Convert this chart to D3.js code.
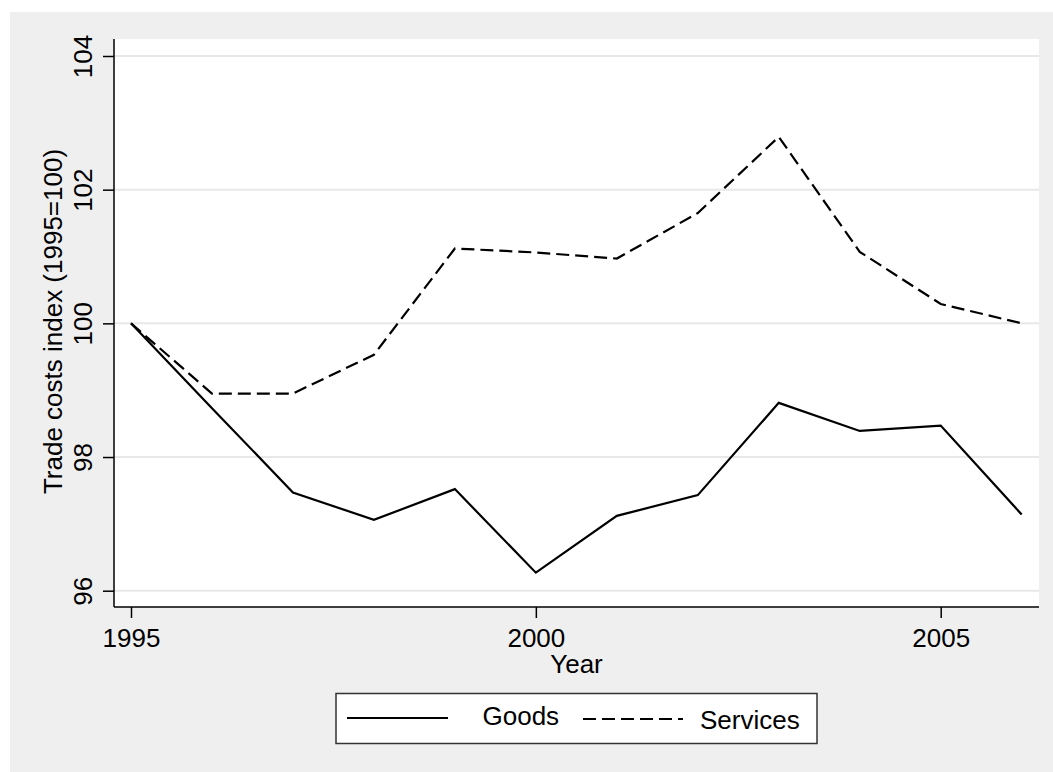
<!DOCTYPE html>
<html>
<head>
<meta charset="utf-8">
<script src="https://cdn.jsdelivr.net/npm/d3@7"></script>
<style>
  body { margin: 0; background: #fff; }
  text { font-family: "Liberation Sans", Arial, sans-serif; fill: #000; }
</style>
</head>
<body>
<div id="chart"></div>
<script>
var years = [1995, 1996, 1997, 1998, 1999, 2000, 2001, 2002, 2003, 2004, 2005, 2006];
var goods = [100, 98.73, 97.47, 97.06, 97.52, 96.27, 97.12, 97.43, 98.81, 98.39, 98.47, 97.14];
var services = [100, 98.95, 98.95, 99.53, 101.12, 101.06, 100.97, 101.65, 102.79, 101.07, 100.29, 100.0];
var yTicks = [96, 98, 100, 102, 104];
var xTicks = [1995, 2000, 2005];

const W = 1053, H = 772;
const plot = { left: 114, right: 1039, top: 39, bottom: 607 };

const svg = d3.select("#chart")
  .append("svg")
  .attr("width", W)
  .attr("height", H);

// outer background
svg.append("rect")
  .attr("x", 10).attr("y", 12)
  .attr("width", W - 10).attr("height", H - 12)
  .attr("fill", "#efefef");

// plot region
svg.append("rect")
  .attr("x", plot.left).attr("y", plot.top)
  .attr("width", plot.right - plot.left)
  .attr("height", plot.bottom - plot.top)
  .attr("fill", "#fff");

const x = d3.scaleLinear().domain([1995, 2005]).range([131, 940.7]);
const y = d3.scaleLinear().domain([96, 104]).range([590.7, 56]);

// gridlines
svg.append("g")
  .selectAll("line")
  .data(yTicks)
  .enter()
  .append("line")
  .attr("x1", plot.left)
  .attr("x2", plot.right)
  .attr("y1", function (d) { return y(d); })
  .attr("y2", function (d) { return y(d); })
  .attr("stroke", "#e8e8e8")
  .attr("stroke-width", 2);

// y axis
const yAxis = svg.append("g")
  .attr("transform", "translate(" + plot.left + ",0)")
  .call(d3.axisLeft(y).tickValues(yTicks).tickSize(11).tickPadding(10).tickFormat(d3.format("d")));
yAxis.select(".domain").attr("d", "M0," + plot.top + "V" + plot.bottom).attr("stroke-width", 1.5);
yAxis.selectAll(".tick line").attr("stroke-width", 1.5);
yAxis.selectAll(".tick text")
  .attr("font-size", 26)
  .attr("x", null).attr("dy", null)
  .attr("text-anchor", "middle")
  .attr("transform", "translate(-22,0) rotate(-90)");

// x axis
const xAxis = svg.append("g")
  .attr("transform", "translate(0," + plot.bottom + ")")
  .call(d3.axisBottom(x).tickValues(xTicks).tickSize(11).tickFormat(d3.format("d")));
xAxis.select(".domain").attr("d", "M" + plot.left + ",0H" + plot.right).attr("stroke-width", 1.5);
xAxis.selectAll(".tick line").attr("stroke-width", 1.5);
xAxis.selectAll(".tick text")
  .attr("font-size", 26)
  .attr("y", 40).attr("dy", null);

// axis titles
svg.append("text")
  .attr("x", (plot.left + plot.right) / 2)
  .attr("y", 672.5)
  .attr("text-anchor", "middle")
  .attr("font-size", 26)
  .text("Year");

svg.append("text")
  .attr("transform", "translate(62," + 321.5 + ") rotate(-90)")
  .attr("text-anchor", "middle")
  .attr("font-size", 26)
  .text("Trade costs index (1995=100)");

var line = d3.line()
  .x(function (d) { return x(d[0]); })
  .y(function (d) { return y(d[1]); });

svg.append("path")
  .datum(years.map(function (yr, i) { return [yr, goods[i]]; }))
  .attr("fill", "none")
  .attr("stroke", "#000")
  .attr("stroke-width", 2.2)
  .attr("d", line);

svg.append("path")
  .datum(years.map(function (yr, i) { return [yr, services[i]]; }))
  .attr("fill", "none")
  .attr("stroke", "#000")
  .attr("stroke-width", 2.2)
  .attr("stroke-dasharray", "13,6")
  .attr("d", line);

// legend
const legend = svg.append("g");
legend.append("rect")
  .attr("x", 336).attr("y", 693.5)
  .attr("width", 481).attr("height", 50)
  .attr("fill", "#fff")
  .attr("stroke", "#333")
  .attr("stroke-width", 1.5);
legend.append("line")
  .attr("x1", 347).attr("x2", 448)
  .attr("y1", 718).attr("y2", 718)
  .attr("stroke", "#000").attr("stroke-width", 2.2);
legend.append("text")
  .attr("x", 482.5).attr("y", 725)
  .attr("font-size", 26)
  .text("Goods");
legend.append("line")
  .attr("x1", 583).attr("x2", 683)
  .attr("y1", 719).attr("y2", 719)
  .attr("stroke", "#000").attr("stroke-width", 2.2)
  .attr("stroke-dasharray", "13,6");
legend.append("text")
  .attr("x", 700).attr("y", 729)
  .attr("font-size", 26)
  .text("Services");
</script>
</body>
</html>
